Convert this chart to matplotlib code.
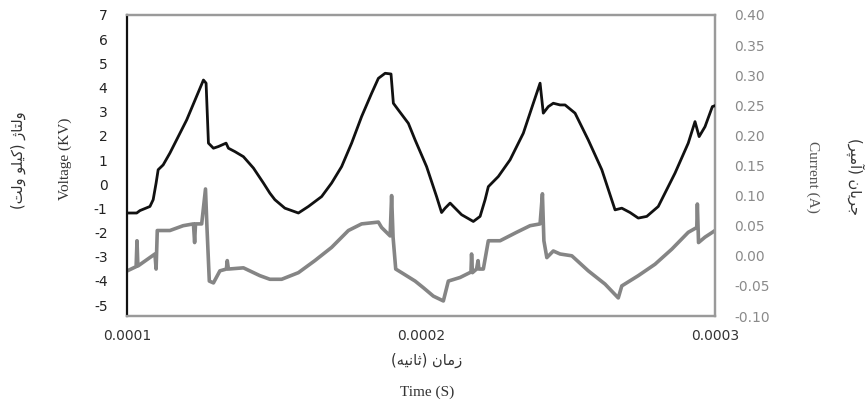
import numpy as np
import matplotlib
matplotlib.use("Agg")
import matplotlib.pyplot as plt
from matplotlib.ticker import FormatStrFormatter

plt.rcParams['axes.unicode_minus'] = False

# time in units of 1e-4 s
t_volt = [1.001, 1.033, 1.044, 1.078, 1.089, 1.099, 1.106, 1.123, 1.146, 1.203,
          1.260, 1.269, 1.277, 1.294, 1.311, 1.337, 1.345, 1.367, 1.396, 1.430,
          1.464, 1.486, 1.503, 1.537, 1.583, 1.617, 1.662, 1.696, 1.730, 1.764,
          1.798, 1.832, 1.855, 1.878, 1.898, 1.906, 1.923, 1.957, 1.980, 2.019,
          2.053, 2.070, 2.082, 2.099, 2.116, 2.138, 2.178, 2.201, 2.218, 2.229,
          2.263, 2.303, 2.348, 2.382, 2.405, 2.416, 2.433, 2.450, 2.473, 2.490,
          2.524, 2.569, 2.615, 2.660, 2.683, 2.711, 2.739, 2.768, 2.807, 2.864,
          2.909, 2.932, 2.946, 2.966, 2.991, 3.000]
voltage = [-1.19, -1.19, -1.09, -0.92, -0.64, 0.05, 0.60, 0.80, 1.29, 2.66,
           4.31, 4.18, 1.70, 1.49, 1.56, 1.70, 1.49, 1.35, 1.14, 0.67,
           0.05, -0.37, -0.64, -0.99, -1.19, -0.92, -0.51, 0.05, 0.73, 1.70,
           2.80, 3.76, 4.38, 4.59, 4.56, 3.35, 3.07, 2.52, 1.83, 0.73,
           -0.51, -1.17, -0.99, -0.78, -0.99, -1.26, -1.54, -1.33, -0.64, -0.10,
           0.32, 1.01, 2.11, 3.35, 4.18, 2.94, 3.21, 3.35, 3.28, 3.28,
           2.94, 1.83, 0.60, -1.06, -0.99, -1.17, -1.40, -1.33, -0.92, 0.46,
           1.70, 2.59, 1.97, 2.38, 3.21, 3.25]

t_curr = [1.001, 1.031, 1.034, 1.037, 1.095, 1.099, 1.103, 1.146, 1.191, 1.226,
          1.230, 1.233, 1.254, 1.267, 1.272, 1.280, 1.294, 1.316, 1.338, 1.341,
          1.345, 1.396, 1.452, 1.486, 1.526, 1.583, 1.639, 1.696, 1.753, 1.798,
          1.855, 1.866, 1.895, 1.900, 1.905, 1.914, 1.934, 1.980, 2.008, 2.042,
          2.076, 2.093, 2.133, 2.170, 2.172, 2.175, 2.189, 2.194, 2.197, 2.212,
          2.229, 2.269, 2.325, 2.371, 2.405, 2.413, 2.418, 2.428, 2.450, 2.473,
          2.513, 2.569, 2.626, 2.671, 2.683, 2.739, 2.796, 2.853, 2.909, 2.938,
          2.940, 2.944, 2.966, 2.991, 3.000]
current = [-0.025, -0.018, 0.025, -0.017, 0.003, -0.022, 0.042, 0.042, 0.050, 0.053,
           0.022, 0.053, 0.053, 0.111, 0.047, -0.042, -0.045, -0.025, -0.022, -0.008,
           -0.022, -0.020, -0.033, -0.039, -0.039, -0.028, -0.008, 0.014, 0.042, 0.053,
           0.056, 0.047, 0.033, 0.100, 0.031, -0.022, -0.028, -0.042, -0.053, -0.067,
           -0.075, -0.042, -0.036, -0.027, 0.003, -0.028, -0.022, -0.008, -0.022, -0.022,
           0.025, 0.025, 0.039, 0.050, 0.053, 0.103, 0.025, -0.003, 0.008, 0.003,
           0.000, -0.025, -0.047, -0.070, -0.050, -0.033, -0.014, 0.011, 0.039, 0.047,
           0.086, 0.022, 0.031, 0.039, 0.042]

volt_ticks = list(range(-5, 8))
curr_ticks = [-0.10, -0.05, 0.00, 0.05, 0.10, 0.15, 0.20, 0.25, 0.30, 0.35, 0.40]
time_ticks = [1e-4, 2e-4, 3e-4]

# Persian labels, written in visual order with presentation forms
# "ولتاژ (کیلو ولت)"
volt_fa = "(\ufe96\ufedf\ufeed \ufeee\ufee0\ufef4\ufedb) \u0698\ufe8e\ufe98\ufedf\ufeed"
# "جریان (آمپر)"
curr_fa = "(\ufeae\ufb59\ufee3\ufe81) \ufee5\ufe8e\ufef3\ufeae\ufe9f"
# "زمان (ثانیه)"
time_fa = "(\ufeea\ufef4\ufee7\ufe8e\ufe9b) \ufee5\ufe8e\ufee3\ufeaf"

t_v = np.array(t_volt) * 1e-4
t_c = np.array(t_curr) * 1e-4

fig = plt.figure(figsize=(8.66, 4.03), dpi=100)
ax = fig.add_axes([127 / 866, 1 - 316 / 403, (715 - 127) / 866, (316 - 15) / 403])
ax2 = ax.twinx()

ax.plot(t_v, voltage, color="#111111", lw=2.0, zorder=3, solid_joinstyle="round")
ax2.plot(t_c, current, color="#858585", lw=2.6, solid_joinstyle="round")
ax.set_zorder(ax2.get_zorder() + 1)
ax.patch.set_visible(False)

ax.set_xlim(1e-4, 3e-4)
ax.set_ylim(-5.45, 7.0)
ax2.set_ylim(-0.10, 0.40)
ax.set_xticks(time_ticks)
ax.xaxis.set_major_formatter(FormatStrFormatter('%.4f'))
ax.set_yticks(volt_ticks)
ax2.set_yticks(curr_ticks)
ax2.yaxis.set_major_formatter(FormatStrFormatter('%.2f'))

ax.tick_params(axis='x', length=0, pad=9, labelsize=10, labelcolor="#333333")
ax.tick_params(axis='y', length=0, pad=14, labelsize=10, labelcolor="#222222")
ax2.tick_params(axis='y', length=0, pad=14, labelsize=10, labelcolor="#8a8a8a")

for a in (ax, ax2):
    for s in a.spines.values():
        s.set_color("#9a9a9a")
        s.set_linewidth(1.6)
ax.spines['left'].set_color("#111111")
ax2.spines['left'].set_visible(False)

serif = "Liberation Serif"
fig.text(65 / 866, 1 - 159 / 403, "Voltage (KV)", rotation=90, ha="center", va="center",
         family=serif, fontsize=11, color="#333333")
fig.text(18 / 866, 1 - 160 / 403, volt_fa, rotation=90, ha="center", va="center",
         family=["DejaVu Sans"], fontsize=10.5, color="#333333")
fig.text(813 / 866, 1 - 177 / 403, "Current (A)", rotation=270, ha="center", va="center",
         family=serif, fontsize=11, color="#555555")
fig.text(855 / 866, 1 - 176 / 403, curr_fa, rotation=270, ha="center", va="center",
         family=["DejaVu Sans"], fontsize=10.5, color="#333333")
fig.text(427 / 866, 1 - 360 / 403, time_fa, ha="center", va="center",
         family=["DejaVu Sans"], fontsize=10.5, color="#333333")
fig.text(427 / 866, 1 - 392 / 403, "Time (S)", ha="center", va="center",
         family=serif, fontsize=11, color="#333333")

fig.savefig("out.png", dpi=100)
